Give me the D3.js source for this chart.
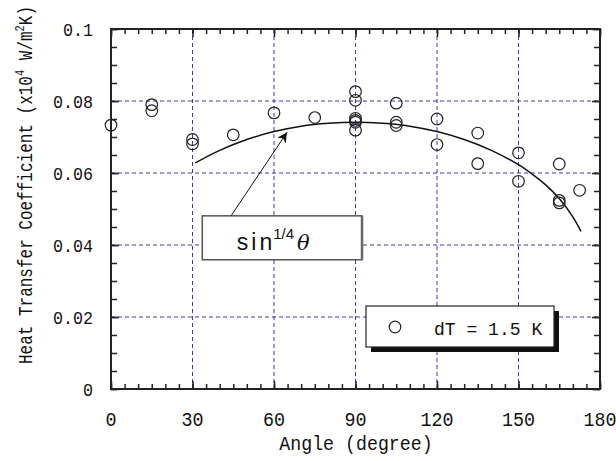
<!DOCTYPE html>
<html>
<head>
<meta charset="utf-8">
<script src="https://cdn.jsdelivr.net/npm/d3@7"></script>
<style>
  body { margin: 0; background: #fff; }
  text { font-family: "Liberation Mono", "DejaVu Sans Mono", monospace; fill: #111; }
</style>
</head>
<body>
<div id="chart"></div>
<script>

// values
var angleTicks = [0, 30, 60, 90, 120, 150, 180];
var htcTicks = [0, 0.02, 0.04, 0.06, 0.08, 0.1];
var htcTickLabels = ["0", "0.02", "0.04", "0.06", "0.08", "0.1"];

var angles = [0, 15, 15, 30, 30, 45, 60, 75,
              90, 90, 90, 90, 90, 90,
              105, 105, 105, 120, 120, 135, 135,
              150, 150, 165, 165, 165, 172.5];
var htc = [0.0733, 0.0790, 0.0773, 0.0693, 0.0681, 0.0706, 0.0767, 0.0754,
           0.0826, 0.0802, 0.0752, 0.0746, 0.0741, 0.0719,
           0.0794, 0.0741, 0.0732, 0.0750, 0.0679, 0.0711, 0.0626,
           0.0656, 0.0577, 0.0625, 0.0524, 0.0517, 0.0552];

// the sin^(1/4) fit line, read at a few angles
var fitAngles = [31, 40, 50, 60, 70, 80, 90, 100, 110, 120, 130, 140, 150, 155, 160, 165, 170, 173];
var fitValues = [0.0628, 0.0663, 0.0693, 0.0715, 0.0730, 0.0738, 0.0741, 0.0738, 0.0730,
                 0.0715, 0.0693, 0.0663, 0.0623, 0.0597, 0.0567, 0.0529, 0.0478, 0.0438];

var legendLabel = "dT = 1.5 K";

function build_chart() {

    var width = 616, height = 461;
    var margin = {left: 111, right: 16, top: 29, bottom: 72};
    var pw = width - margin.left - margin.right,
        ph = height - margin.top - margin.bottom;

    var svg = d3.select("#chart")
        .append("svg")
            .attr("width", width)
            .attr("height", height);

    var defs = svg.append("defs");
    defs.append("marker")
        .attr("id", "arrowhead")
        .attr("viewBox", "0 0 10 10")
        .attr("refX", 10).attr("refY", 5)
        .attr("markerWidth", 16).attr("markerHeight", 10)
        .attr("markerUnits", "userSpaceOnUse")
        .attr("orient", "auto")
        .append("path")
            .attr("d", "M0,0 L10,5 L0,10 L3,5 Z")
            .attr("fill", "#111");

    var g = svg.append("g")
        .attr("transform", "translate(" + margin.left + "," + margin.top + ")");

    var xScale = d3.scaleLinear().domain([0, 180]).range([0, pw]);
    var yScale = d3.scaleLinear().domain([0, 0.1]).range([ph, 0]);

    // grid
    g.append("g").selectAll("line")
        .data(angleTicks.slice(1, -1))
        .enter().append("line")
            .attr("x1", function(d){ return xScale(d); })
            .attr("x2", function(d){ return xScale(d); })
            .attr("y1", 0).attr("y2", ph)
            .attr("stroke", "#3b3ba6").attr("stroke-width", 1)
            .attr("stroke-dasharray", "4,3");
    g.append("g").selectAll("line")
        .data(htcTicks.slice(1, -1))
        .enter().append("line")
            .attr("y1", function(d){ return yScale(d); })
            .attr("y2", function(d){ return yScale(d); })
            .attr("x1", 0).attr("x2", pw)
            .attr("stroke", "#3b3ba6").attr("stroke-width", 1)
            .attr("stroke-dasharray", "4,3");

    // fit curve
    var line = d3.line()
        .x(function(d, i){ return xScale(fitAngles[i]); })
        .y(function(d){ return yScale(d); })
        .curve(d3.curveCatmullRom);
    g.append("path")
        .attr("d", line(fitValues))
        .attr("fill", "none")
        .attr("stroke", "#111")
        .attr("stroke-width", 1.5);

    // data points
    g.append("g").selectAll("circle")
        .data(htc)
        .enter().append("circle")
            .attr("cx", function(d, i){ return xScale(angles[i]); })
            .attr("cy", function(d){ return yScale(d); })
            .attr("r", 5.8)
            .attr("fill", "none")
            .attr("stroke", "#222")
            .attr("stroke-width", 1.2);

    // annotation box and arrow
    var bx0 = xScale(33.6), bx1 = xScale(92.4), by0 = yScale(0.0481), by1 = yScale(0.0359);
    g.append("rect")
        .attr("x", bx0).attr("y", by0)
        .attr("width", bx1 - bx0).attr("height", by1 - by0)
        .attr("fill", "#fff").attr("stroke", "#555").attr("stroke-width", 1.5);
    g.append("line")
        .attr("x1", bx1).attr("x2", bx1).attr("y1", by0).attr("y2", by1)
        .attr("stroke", "#666").attr("stroke-width", 2.5);
    var ann = g.append("text")
        .attr("x", xScale(46.3)).attr("y", yScale(0.0387))
        .style("font-family", "'Liberation Sans', Arial, sans-serif")
        .style("letter-spacing", "3px")
        .style("font-size", "23px");
    ann.append("tspan").text("sin");
    ann.append("tspan").attr("dy", -11).attr("dx", -2)
        .style("letter-spacing", "0px")
        .style("font-size", "15px").text("1/4");
    ann.append("tspan").attr("dy", 11).attr("dx", 3)
        .style("font-family", "'DejaVu Serif', serif")
        .style("font-style", "italic")
        .style("font-size", "21px").text("\u03b8");

    g.append("line")
        .attr("x1", xScale(44.2)).attr("y1", yScale(0.0481))
        .attr("x2", xScale(64.8)).attr("y2", yScale(0.0713))
        .attr("stroke", "#111").attr("stroke-width", 1)
        .attr("marker-end", "url(#arrowhead)");

    // legend
    var lx = 255, ly = 277, lw = 188, lh = 41;
    var leg = g.append("g");
    leg.append("rect")
        .attr("x", lx + 5).attr("y", ly + 5)
        .attr("width", lw).attr("height", lh)
        .attr("fill", "#111");
    leg.append("rect")
        .attr("x", lx).attr("y", ly)
        .attr("width", lw).attr("height", lh)
        .attr("fill", "#fff").attr("stroke", "#222").attr("stroke-width", 1.2);
    leg.append("circle")
        .attr("cx", lx + 29).attr("cy", ly + 21)
        .attr("r", 5.8)
        .attr("fill", "none").attr("stroke", "#222").attr("stroke-width", 1.2);
    leg.append("text")
        .attr("transform", "translate(" + (lx + 68) + "," + (ly + 29) + ") scale(0.95,1)")
        .style("font-size", "19px")
        .text(legendLabel);

    // minor and major ticks on all four sides, pointing inward
    var minorX = d3.range(0, 181, 5), minorY = d3.range(0, 0.1001, 0.005);
    function ticks(axis, vals, size, tr) {
        var a = g.append("g")
            .attr("transform", tr)
            .call(axis.tickValues(vals).tickSize(-size).tickFormat(""));
        a.select(".domain").remove();
        a.selectAll(".tick line").attr("stroke", "#222").attr("stroke-width", 1.5);
    }
    ticks(d3.axisBottom(xScale), minorX, 5, "translate(0," + ph + ")");
    ticks(d3.axisTop(xScale), minorX, 5, "translate(0,0)");
    ticks(d3.axisLeft(yScale), minorY, 6, "translate(0,0)");
    ticks(d3.axisRight(yScale), minorY, 6, "translate(" + pw + ",0)");
    ticks(d3.axisBottom(xScale), angleTicks, 8, "translate(0," + ph + ")");
    ticks(d3.axisTop(xScale), angleTicks, 8, "translate(0,0)");
    ticks(d3.axisLeft(yScale), htcTicks, 8, "translate(0,0)");
    ticks(d3.axisRight(yScale), htcTicks, 8, "translate(" + pw + ",0)");

    // frame
    g.append("rect")
        .attr("width", pw).attr("height", ph)
        .attr("fill", "none").attr("stroke", "#222").attr("stroke-width", 2);

    // tick labels
    g.append("g").selectAll("text")
        .data(angleTicks)
        .enter().append("text")
            .attr("transform", function(d){ return "translate(" + xScale(d) + "," + (ph + 37) + ") scale(0.92,1)"; })
            .attr("text-anchor", "middle")
            .style("font-size", "20px")
            .text(function(d){ return d; });
    g.append("g").selectAll("text")
        .data(htcTicks)
        .enter().append("text")
            .attr("transform", function(d){ return "translate(-18," + yScale(d) + ") scale(0.88,1)"; })
            .attr("dy", "0.36em")
            .attr("text-anchor", "end")
            .style("font-size", "19px")
            .text(function(d, i){ return htcTickLabels[i]; });

    // axis titles
    svg.append("text")
        .attr("transform", "translate(356,450) scale(0.87,1)")
        .attr("text-anchor", "middle")
        .style("font-size", "21px")
        .text("Angle (degree)");

    var yt = svg.append("text")
        .attr("transform", "translate(32,185) rotate(-90) scale(0.8,1)")
        .attr("text-anchor", "middle")
        .style("font-size", "20px");
    yt.append("tspan").text("Heat Transfer Coefficient (x10");
    yt.append("tspan").attr("dy", -8).style("font-size", "13px").text("4");
    yt.append("tspan").attr("dy", 8).text(" W/m");
    yt.append("tspan").attr("dy", -8).style("font-size", "13px").text("2");
    yt.append("tspan").attr("dy", 8).text("K)");
}
build_chart()
</script>
</body>
</html>
